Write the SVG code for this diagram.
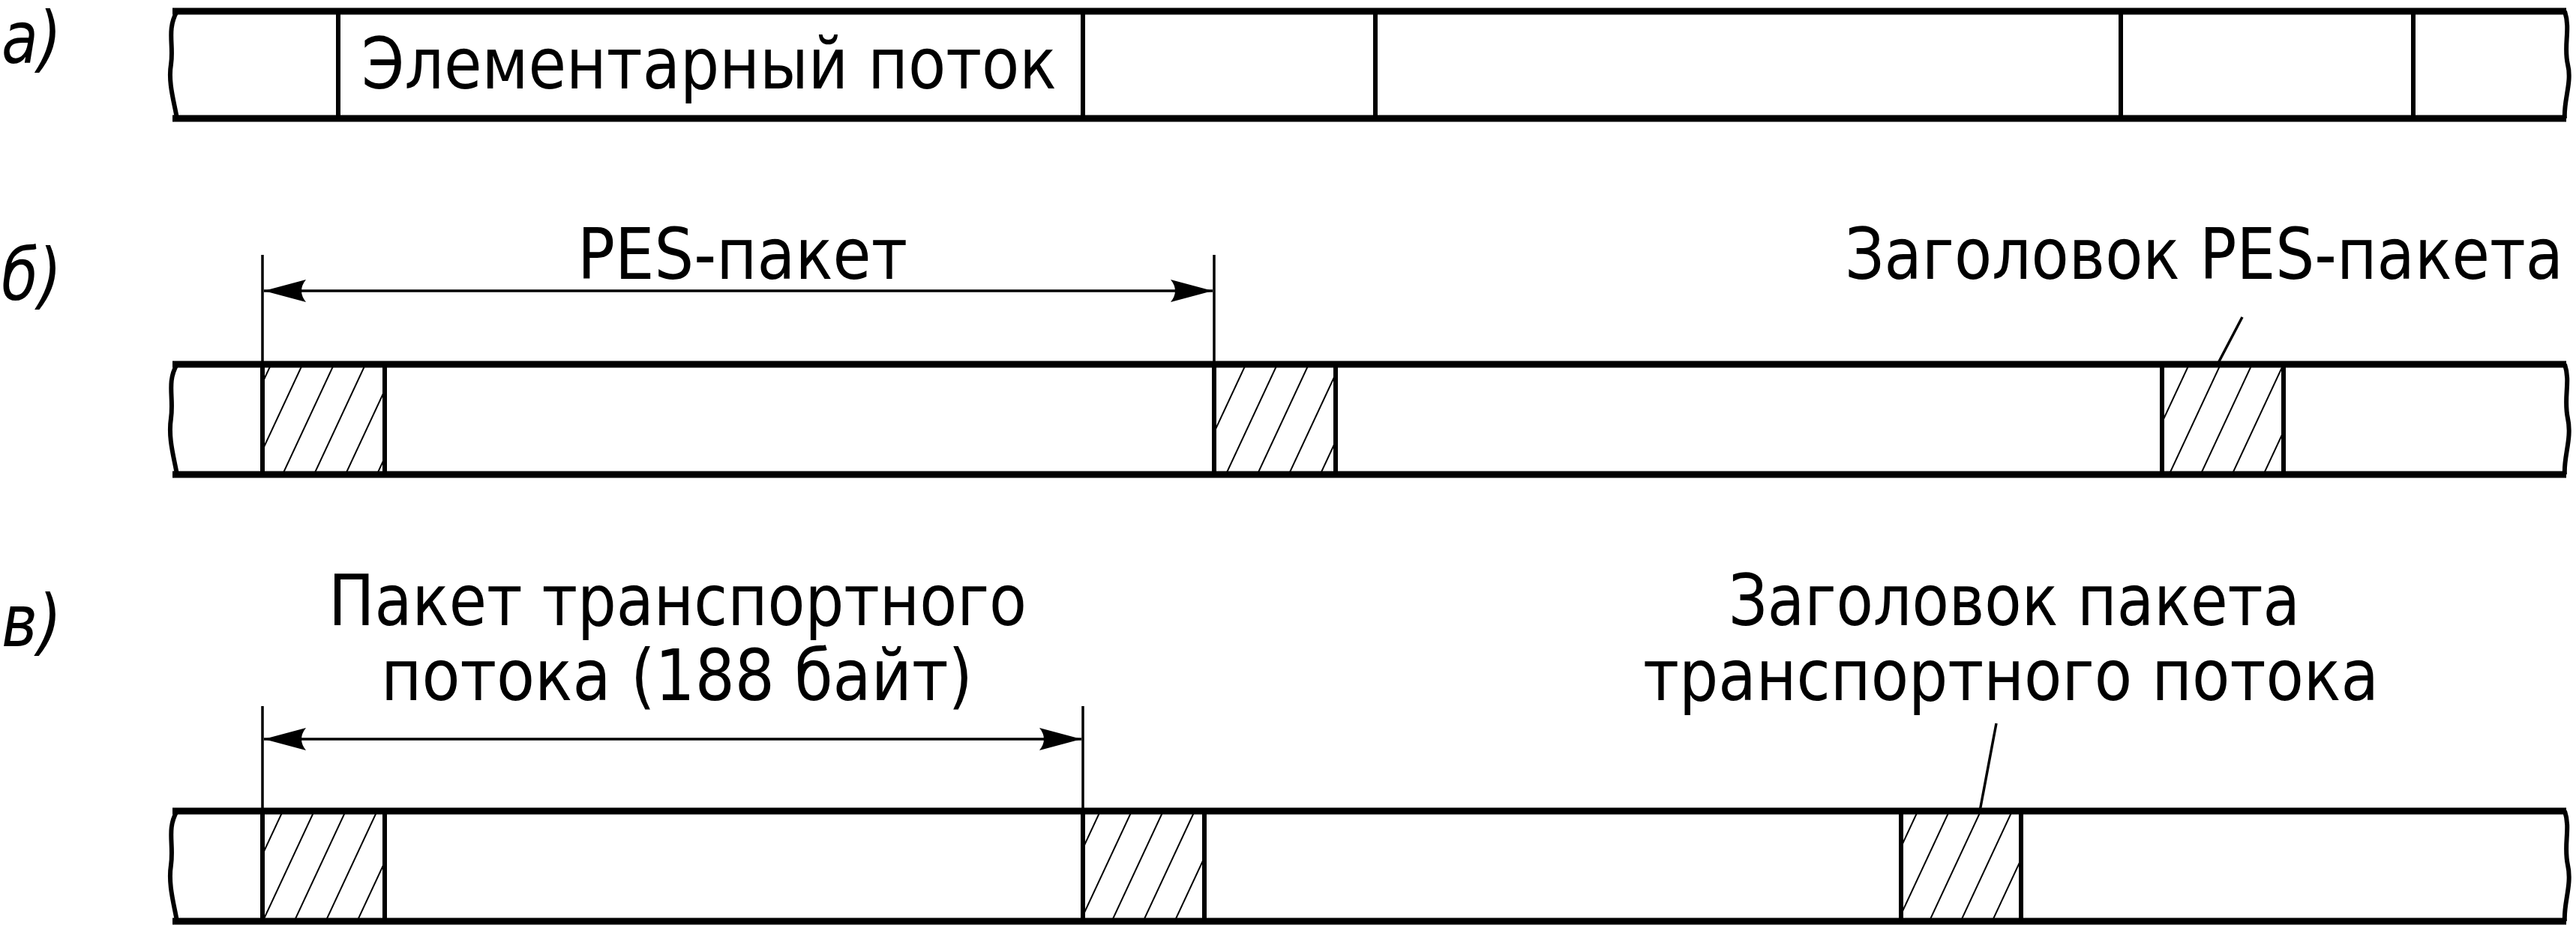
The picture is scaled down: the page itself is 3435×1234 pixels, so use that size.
<svg xmlns="http://www.w3.org/2000/svg" width="3435" height="1234" viewBox="0 0 3435 1234">
<style>
.h{stroke:#000;stroke-width:9;fill:none}
.v{stroke:#000;stroke-width:6;fill:none}
.t{stroke:#000;stroke-width:3.5;fill:none}
.txt{font-family:"DejaVu Sans Condensed","DejaVu Sans","Liberation Sans",sans-serif;font-stretch:condensed;font-size:94px;fill:#000}
.lbl{font-family:"DejaVu Sans Condensed","DejaVu Sans",sans-serif;font-style:italic;font-size:96px;fill:#000}
</style>
<defs>
<pattern id="hatch" patternUnits="userSpaceOnUse" width="38" height="38" patternTransform="rotate(25)">
<line x1="0" y1="0" x2="0" y2="38" stroke="#000" stroke-width="4"/>
</pattern>
<marker id="ah" markerWidth="56" markerHeight="30" refX="56" refY="15" orient="auto-start-reverse" markerUnits="userSpaceOnUse">
<path d="M0,0 L56,15 L0,30 Q12,15 0,0 Z" fill="#000"/>
</marker>
</defs>
<g id="labels">
<text class="lbl" x="2" y="84" textLength="80" lengthAdjust="spacingAndGlyphs">а)</text>
<text class="lbl" x="2" y="400" textLength="80" lengthAdjust="spacingAndGlyphs">б)</text>
<text class="lbl" x="2" y="862" textLength="80" lengthAdjust="spacingAndGlyphs">в)</text>
</g>
<g id="rowA">
<path class="h" d="M230,15 H3422 M230,158 H3422"/>
<path class="v" d="M236,15 C222,40 232,60 228,86 C224,110 232,135 236,158 M3420,15 C3428,40 3418,60 3424,86 C3430,110 3418,135 3420,158"/>
<path class="v" d="M451,15 V158 M1444,15 V158 M1834,15 V158 M2828,15 V158 M3218,15 V158"/>
<text class="txt" x="482" y="118" textLength="927" lengthAdjust="spacingAndGlyphs">Элементарный поток</text>
</g>
<g id="rowB">
<rect x="350" y="486" width="163" height="147" fill="url(#hatch)"/>
<rect x="1619" y="486" width="162" height="147" fill="url(#hatch)"/>
<rect x="2883" y="486" width="162" height="147" fill="url(#hatch)"/>
<path class="h" d="M230,486 H3422 M230,633 H3422"/>
<path class="v" d="M236,486 C222,510 232,530 228,558 C224,585 232,610 236,633 M3420,486 C3428,510 3418,530 3424,558 C3430,585 3418,610 3420,633"/>
<path class="v" d="M350,486 V633 M513,486 V633 M1619,486 V633 M1781,486 V633 M2883,486 V633 M3045,486 V633"/>
<text class="txt" x="770" y="372" textLength="440" lengthAdjust="spacingAndGlyphs">PES-пакет</text>
<text class="txt" x="2460" y="372" textLength="958" lengthAdjust="spacingAndGlyphs">Заголовок PES-пакета</text>
</g>
<g id="rowC">
<rect x="350" y="1082" width="163" height="147" fill="url(#hatch)"/>
<rect x="1444" y="1082" width="162" height="147" fill="url(#hatch)"/>
<rect x="2535" y="1082" width="160" height="147" fill="url(#hatch)"/>
<path class="h" d="M230,1082 H3422 M230,1229 H3422"/>
<path class="v" d="M236,1082 C222,1106 232,1126 228,1154 C224,1180 232,1206 236,1229 M3420,1082 C3428,1106 3418,1126 3424,1154 C3430,1180 3418,1206 3420,1229"/>
<path class="v" d="M350,1082 V1229 M513,1082 V1229 M1444,1082 V1229 M1606,1082 V1229 M2535,1082 V1229 M2695,1082 V1229"/>
<text class="txt" x="438" y="834" textLength="931" lengthAdjust="spacingAndGlyphs">Пакет транспортного</text>
<text class="txt" x="508" y="934" textLength="789" lengthAdjust="spacingAndGlyphs">потока (188 байт)</text>
<text class="txt" x="2305" y="834" textLength="762" lengthAdjust="spacingAndGlyphs">Заголовок пакета</text>
<text class="txt" x="2191" y="934" textLength="981" lengthAdjust="spacingAndGlyphs">транспортного потока</text>
</g>
<g id="connectors">
<path class="t" d="M350,340 V486 M1619,340 V486 M350,942 V1082 M1444,942 V1082"/>
<line class="t" x1="352" y1="388" x2="1617" y2="388" marker-start="url(#ah)" marker-end="url(#ah)"/>
<line class="t" x1="352" y1="986" x2="1442" y2="986" marker-start="url(#ah)" marker-end="url(#ah)"/>
<line class="t" x1="2990" y1="423" x2="2957" y2="486"/>
<line class="t" x1="2662" y1="965" x2="2640" y2="1082"/>
</g>
</svg>
